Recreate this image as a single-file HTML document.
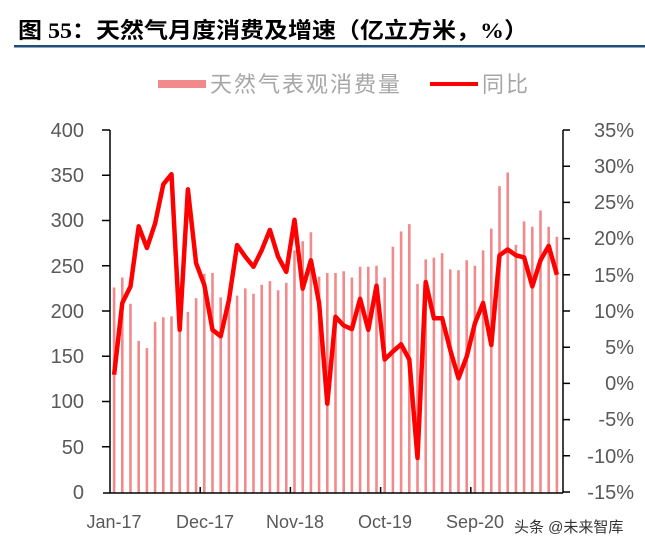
<!DOCTYPE html>
<html><head><meta charset="utf-8"><style>
body{margin:0;background:#fff;}
svg{display:block;font-family:"Liberation Sans","Noto Sans CJK SC",sans-serif;}
</style></head><body>
<svg width="645" height="550" viewBox="0 0 645 550" xmlns="http://www.w3.org/2000/svg">
<text x="18" y="38" font-size="22" font-weight="bold" fill="#000" font-family="Liberation Serif,Noto Sans CJK SC,sans-serif" textLength="510" lengthAdjust="spacingAndGlyphs">图 55：天然气月度消费及增速（亿立方米，%）</text>
<rect x="14" y="45" width="631" height="2.5" fill="#1f4e79"/>
<rect x="158" y="80" width="48" height="8" fill="#f28a8c"/>
<text x="210" y="92" font-size="22" fill="#a6a6a6" textLength="190">天然气表观消费量</text>
<rect x="430" y="82" width="48" height="4" fill="#ff0000"/>
<text x="482" y="92" font-size="22" fill="#a6a6a6" textLength="46">同比</text>
<path stroke="#f28a8c" stroke-width="2.6" fill="none" d="M114.1 287.5V493M122.3 277.5V493M130.5 303.8V493M138.7 340.9V493M146.9 348.1V493M155.1 321.9V493M163.3 317.3V493M171.5 316.4V493M179.7 311V493M187.9 311.9V493M196.1 298.3V493M204.3 273.9V493M212.5 273V493M220.7 297.4V493M228.9 302V493M237.1 295.6V493M245.3 288.4V493M253.5 293.8V493M261.7 284.8V493M269.9 281.1V493M278.1 290.2V493M286.3 282.9V493M294.5 250.4V493M302.7 241.3V493M310.9 232.3V493M319.1 276.6V493M327.3 273V493M335.5 273V493M343.7 271.2V493M351.9 277.5V493M360.1 266.7V493M368.3 266.7V493M376.5 265.8V493M384.7 277.5V493M392.9 246.7V493M401.1 231.4V493M409.3 224.1V493M417.5 283.9V493M425.7 259.4V493M433.9 257.6V493M442.1 253.1V493M450.3 269.4V493M458.5 270.3V493M466.7 260.3V493M474.9 265.8V493M483.1 250.4V493M491.3 228.6V493M499.5 186.1V493M507.7 172.5V493M515.9 244.9V493M524.1 221.4V493M532.3 226.8V493M540.5 210.5V493M548.7 226.8V493M556.9 236.8V493"/>
<g stroke="#000" stroke-width="1.5" fill="none">
<path d="M110 130V493M103 493H563M563 130V493"/>
<path d="M102 130H110M102 175.25H110M102 220.5H110M102 265.75H110M102 311H110M102 356.25H110M102 401.5H110M102 446.75H110"/>
<path d="M563 130H570M563 166.2H570M563 202.4H570M563 238.6H570M563 274.8H570M563 311H570M563 347.2H570M563 383.4H570M563 419.6H570M563 455.8H570M563 492H570"/>
<path d="M200.2 493V487M290.4 493V487M380.6 493V487M470.8 493V487"/>
</g>
<g font-size="20" fill="#595959" text-anchor="end">
<text x="84" y="137">400</text><text x="84" y="182">350</text><text x="84" y="227">300</text><text x="84" y="273">250</text><text x="84" y="318">200</text><text x="84" y="363">150</text><text x="84" y="408">100</text><text x="84" y="454">50</text><text x="84" y="499">0</text>
</g>
<g font-size="20" fill="#595959" text-anchor="end">
<text x="634" y="137">35%</text><text x="634" y="173">30%</text><text x="634" y="209">25%</text><text x="634" y="245">20%</text><text x="634" y="282">15%</text><text x="634" y="318">10%</text><text x="634" y="354">5%</text><text x="634" y="390">0%</text><text x="634" y="426">-5%</text><text x="634" y="463">-10%</text><text x="634" y="499">-15%</text>
</g>
<g font-size="18" fill="#595959" text-anchor="middle">
<text x="114" y="528">Jan-17</text><text x="205" y="528">Dec-17</text><text x="295" y="528">Nov-18</text><text x="385" y="528">Oct-19</text><text x="475" y="528">Sep-20</text>
</g>
<path fill="none" stroke="#ff0000" stroke-width="4.5" stroke-linejoin="round" d="M114.1 374.7L122.3 303L130.5 286.4L138.7 226.3L146.9 248L155.1 223.4L163.3 184.3L171.5 174.2L179.7 329.8L187.9 189.4L196.1 263.2L204.3 284.9L212.5 329.8L220.7 336.3L228.9 300.1L237.1 245.1L245.3 256.7L253.5 266.8L261.7 250.2L269.9 229.9L278.1 256.7L286.3 271.9L294.5 219.8L302.7 288.6L310.9 260.3L319.1 303L327.3 403.7L335.5 316.8L343.7 325.5L351.9 329.1L360.1 298.7L368.3 329.8L376.5 285.7L384.7 359.5L392.9 351.5L401.1 344.3L409.3 359.5L417.5 458L425.7 282L433.9 318.2L442.1 318.2L450.3 350.1L458.5 378.3L466.7 356.6L474.9 323.3L483.1 303L491.3 345L499.5 255.3L507.7 249.5L515.9 255.3L524.1 257.4L532.3 286.4L540.5 260.3L548.7 245.9L556.9 274.8"/>
<text x="514" y="532" font-size="15" fill="#333" stroke="#fff" stroke-width="3" paint-order="stroke">头条 @未来智库</text>
</svg>
</body></html>
